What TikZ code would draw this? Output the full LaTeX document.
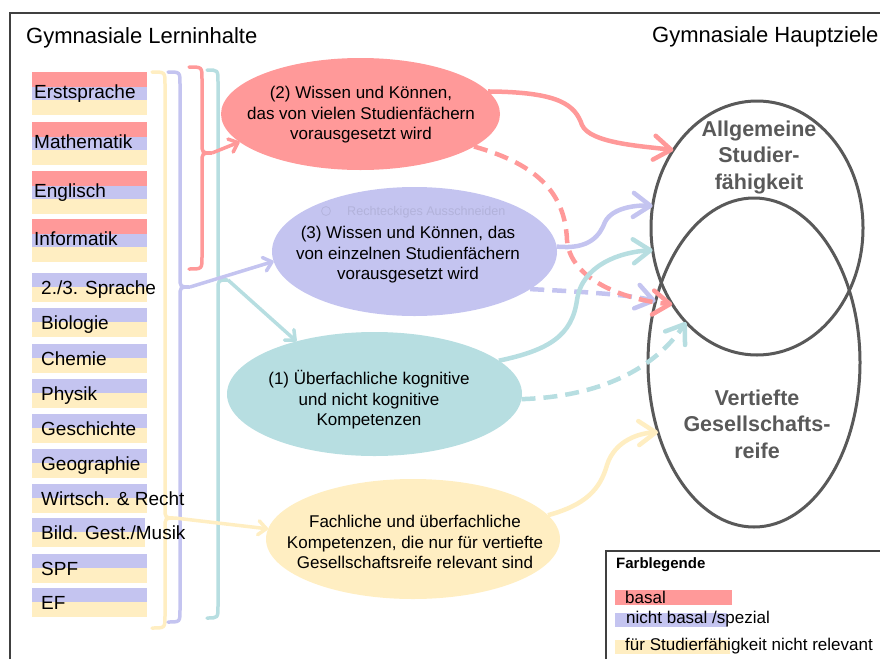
\documentclass[tikz,border=0pt]{standalone}
\usepackage{fontspec}
\setmainfont{Liberation Sans}
\usetikzlibrary{shapes.geometric,arrows.meta}
\definecolor{basalred}{RGB}{255,153,153}
\definecolor{spezblue}{RGB}{196,196,240}
\definecolor{tealc}{RGB}{183,222,225}
\definecolor{relyellow}{RGB}{255,238,194}
\definecolor{goalgray}{RGB}{89,89,89}
\definecolor{framegray}{RGB}{64,64,64}
\begin{document}
\begin{tikzpicture}[x=1pt,y=-1pt,
    blob/.style={ellipse,inner sep=0pt,outer sep=0pt},
    blobtext/.style={align=center,font=\fontsize{17}{20.5}\selectfont},
    goal/.style={ellipse,draw=goalgray,line width=3pt,inner sep=0pt,outer sep=0pt},
    goaltext/.style={align=center,text=goalgray,font=\bfseries\fontsize{21.5}{26.5}\selectfont},
    fach/.style={anchor=base west,inner sep=0pt,font=\fontsize{19}{22}\selectfont},
    legtext/.style={anchor=base west,inner sep=0pt,font=\fontsize{17}{20}\selectfont},
    bigarrow/.style={line width=4.5pt,-{Straight Barb[length=17pt,width=24pt,round]}},
    smallarrow/.style={line width=3.5pt,-{Straight Barb[length=8pt,width=14pt,round]}},
    bracket/.style={line width=3.5pt,line cap=round},
    dashy/.style={dash pattern=on 14pt off 8pt}]

	\useasboundingbox (0,0) rectangle (880,659);

	% frame
	\draw[framegray,line width=1.5pt] (10,659) -- (10,13) -- (880,13);

	\node[anchor=base west,inner sep=0pt,font=\fontsize{22}{26}\selectfont] (lernen) at (26,43) {Gymnasiale Lerninhalte};
	\node[anchor=base west,inner sep=0pt,font=\fontsize{22}{26}\selectfont] (ziele) at (652,42) {Gymnasiale Hauptziele};

	% subject bars
	\foreach \y in {72,122,171,219} {
	    \fill[basalred] (32,\y) rectangle (147,\y+15);
	    \fill[spezblue] (32,\y+15) rectangle (147,\y+28);
	    \fill[relyellow] (32,\y+28) rectangle (147,\y+43);
	}
	\foreach \y/\xe in {273/147,308/147,344/147,379/147,414/147,449/147,484/147,518/145,554/147,588/147} {
	    \fill[spezblue] (32,\y) rectangle (\xe,\y+14);
	    \fill[relyellow] (32,\y+14) rectangle (\xe,\y+29);
	}

	% braces
	\foreach \n/\col/\xa/\xb/\ya/\ym/\yb in {Y/relyellow/152/165/72/518/628, B/spezblue/168/180/72/287/622, R/basalred/189/202/67/153/269, T/tealc/207/218/70/280/618} {
	    \coordinate (tip\n) at (\xb+10,\ym);
	    \draw[bracket,\col] (\xa,\ya) .. controls (\xb,\ya) .. (\xb,\ya+12) -- (\xb,\ym-10)
	        .. controls (\xb,\ym) .. (tip\n) .. controls (\xb,\ym) .. (\xb,\ym+10)
	        -- (\xb,\yb-12) .. controls (\xb,\yb) .. (\xa,\yb);
	}

	% subject names
	\foreach \fach/\y [count=\i] in {Erstsprache/72, Mathematik/122, Englisch/171, Informatik/219}
	    \node[fach] (fach\i) at (34,\y+26) {\fach};
	\foreach \fach/\y [count=\i] in {{2./3. Sprache}/273, Biologie/308, Chemie/344, Physik/379, Geschichte/414, Geographie/449, {Wirtsch. \& Recht}/484, {Bild. Gest./Musik}/518, SPF/554, EF/588}
	    \node[fach] (nfach\i) at (41,\y+21) {\fach};

	% content ellipses
	\node[blob,fill=basalred,minimum width=279pt,minimum height=112pt] (wissen2) at (360.5,114) {};
	\node[blobtext] (wissen2txt) at (361,115) {(2) Wissen und Können,\\das von vielen Studienfächern\\vorausgesetzt wird};

	\node[blob,fill=spezblue,minimum width=285pt,minimum height=129pt] (wissen3) at (414.5,251.5) {};
	\node[blobtext] (wissen3txt) at (408,255) {(3) Wissen und Können, das\\von einzelnen Studienfächern\\vorausgesetzt wird};

	\node[blob,fill=tealc,minimum width=295pt,minimum height=124pt] (kompetenz) at (374.5,394) {};
	\node[blobtext] (kompetenztxt) at (369,400) {(1) Überfachliche kognitive\\und nicht kognitive\\Kompetenzen};

	\node[blob,fill=relyellow,minimum width=294pt,minimum height=120pt] (fachlich) at (413,539) {};
	\node[blobtext] (fachlichtxt) at (415,542) {Fachliche und überfachliche\\Kompetenzen, die nur für vertiefte\\Gesellschaftsreife relevant sind};

	% faint snipping hint
	\draw[black,opacity=0.08,line width=0.8pt] (326,211) circle (4.5);
	\node[anchor=base west,inner sep=0pt,text=black,text opacity=0.09,font=\fontsize{12.6}{15}\selectfont] (snip) at (347,215) {Rechteckiges Ausschneiden};

	% goals
	\node[goal,minimum width=212pt,minimum height=254pt] (allg) at (757,228) {};
	\node[goal,minimum width=212pt,minimum height=329pt] (gesell) at (754,362.5) {};
	\node[goaltext] (allgtxt) at (759,157) {Allgemeine\\Studier-\\fähigkeit};
	\node[goaltext] (geselltxt) at (757,424) {Vertiefte\\Gesellschafts-\\reife};

	% from braces
	\draw[smallarrow,basalred] (tipR) -- (wissen2.193);
	\draw[smallarrow,spezblue] (tipB) -- (wissen3.184);
	\draw[smallarrow,tealc] (tipT) -- (kompetenz.146);
	\draw[smallarrow,relyellow] (tipY) -- (fachlich.176);

	% to goals
	\draw[bigarrow,spezblue,dashy] (wissen3.-18) .. controls (590,292) and (630,295) .. (gesell.148);
	\draw[bigarrow,basalred] (wissen2.10) .. controls (560,92) and (575,105) .. (582,125) .. controls (590,143) and (640,146) .. (allg.137);
	\draw[bigarrow,basalred,dashy] (wissen2.-16) .. controls (540,165) and (565,195) .. (567,240) .. controls (570,280) and (625,300) .. (allg.222);
	\draw[bigarrow,spezblue] (wissen3.2) .. controls (590,250) and (600,235) .. (605,222) .. controls (612,208) and (635,205) .. (allg.168);
	\draw[bigarrow,tealc] (kompetenz.15) .. controls (550,350) and (572,335) .. (577,300) .. controls (582,265) and (620,252) .. (allg.192);
	\draw[bigarrow,tealc,dashy] (kompetenz.-2) .. controls (590,397) and (650,375) .. (allg.233);
	\draw[bigarrow,relyellow] (fachlich.10) .. controls (585,505) and (600,490) .. (607,465) .. controls (615,440) and (640,433) .. (gesell.216);

	% legend
	\draw[framegray,line width=1.5pt] (606,659) -- (606,551) -- (880,551);
	\node[anchor=base west,inner sep=0pt,font=\bfseries\fontsize{15}{18}\selectfont] (legtitle) at (616,568) {Farblegende};
	\fill[basalred] (615,590) rectangle (732,605);
	\fill[spezblue] (615,613) rectangle (727,627);
	\fill[relyellow] (615,640) rectangle (730,654);
	\node[legtext] (legbasal) at (625,603) {basal};
	\node[legtext] (legspez) at (626,623) {nicht basal /spezial};
	\node[legtext] (legrel) at (625,650) {für Studierfähigkeit nicht relevant};

\end{tikzpicture}
\end{document}
